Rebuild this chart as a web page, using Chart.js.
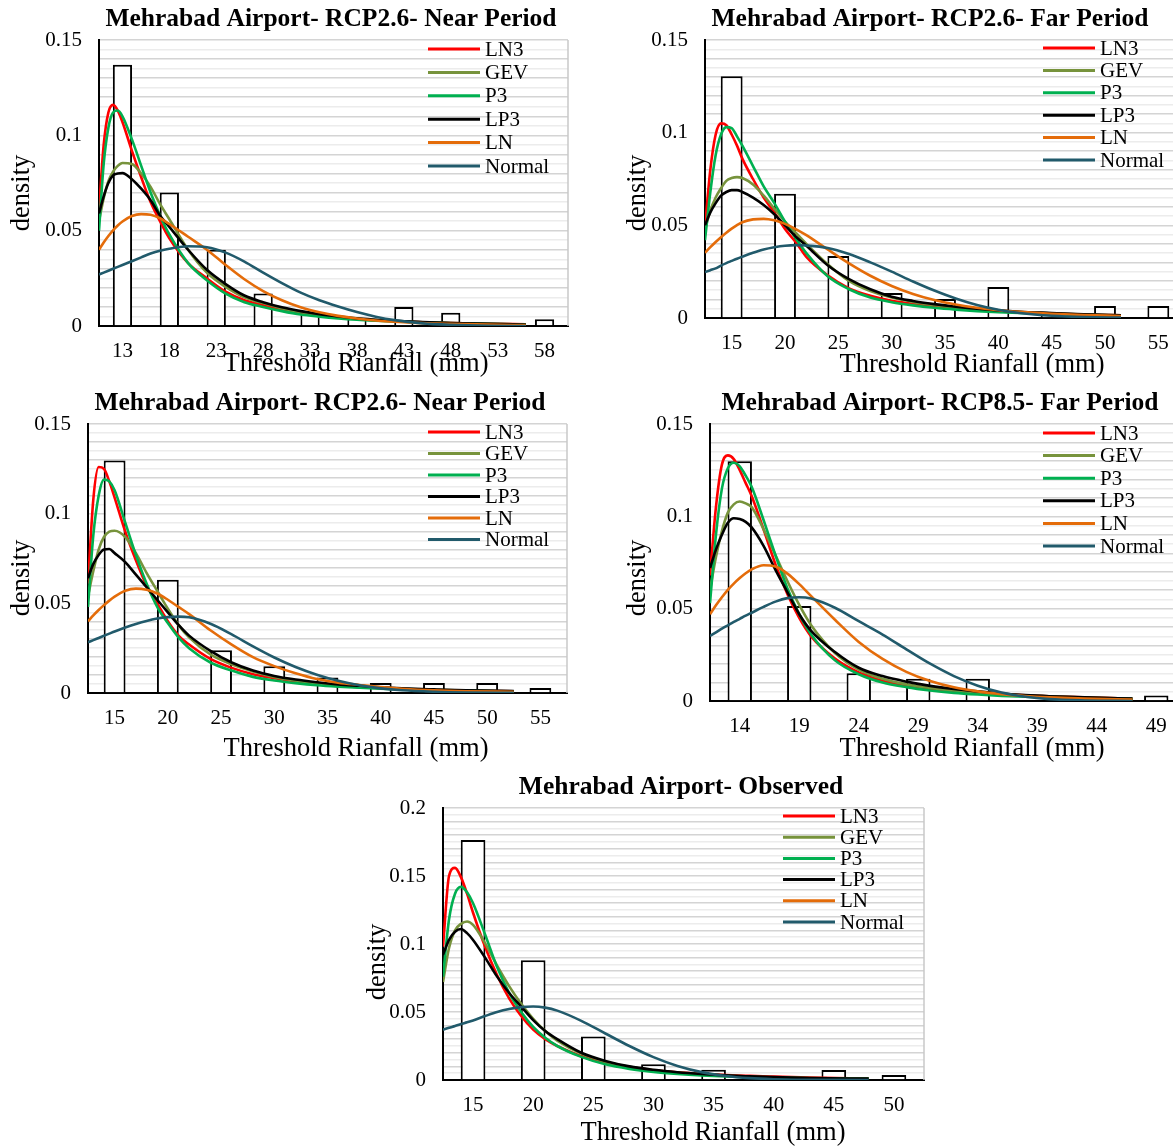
<!DOCTYPE html>
<html>
<head>
<meta charset="utf-8">
<script src="https://cdn.jsdelivr.net/npm/chart.js@4.4.1/dist/chart.umd.min.js"></script>
<style>
html, body { margin: 0; padding: 0; background: #fff; overflow: hidden; width: 1173px; height: 1146px; }
canvas { position: absolute; left: 0; top: 0; }
</style>
</head>
<body>
<canvas id="c1" width="1200" height="1146"></canvas>
<canvas id="c2" width="1200" height="1146"></canvas>
<canvas id="c3" width="1200" height="1146"></canvas>
<canvas id="c4" width="1200" height="1146"></canvas>
<canvas id="c5" width="1200" height="1146"></canvas>
<script>
// legend names and colours
const curveNames = ["LN3", "GEV", "P3", "LP3", "LN", "Normal"];
const curveColors = ["#ff0000", "#77933c", "#00b050", "#000000", "#e46c0a", "#215a6b"];

// ---- panel 1 : RCP2.6 near
const p1Ticks = [13, 18, 23, 28, 33, 38, 43, 48, 53, 58];
const p1Freq = [0.137, 0.070, 0.040, 0.017, 0.007, 0.004, 0.010, 0.007, 0, 0.0035];
const p1X = [10.5, 11, 11.5, 12, 12.5, 13, 14, 15, 16, 17, 18, 20, 22, 24, 26, 28, 30, 32, 34, 36, 38, 40, 42, 45, 48, 52, 56];
const p1LN3 = [.061,.095,.112,.116,.113,.107,.092,.078,.065,.055,.046,.033,.025,.018,.0135,.011,.0085,.0068,.0055,.0045,.0037,.003,.0026,.002,.0016,.0012,.0009];
const p1GEV = [.055,.067,.076,.081,.084,.0855,.085,.080,.073,.064,.056,.040,.028,.0205,.015,.012,.0093,.0073,.0058,.0047,.0038,.0031,.0026,.002,.0016,.0011,.0008];
const p1P3 = [.050,.085,.104,.112,.113,.110,.098,.084,.070,.058,.048,.033,.024,.017,.0125,.010,.0078,.006,.0049,.004,.0033,.0028,.0024,.0018,.0014,.001,.0008];
const p1LP3 = [.059,.068,.075,.079,.080,.0802,.077,.072,.066,.058,.052,.040,.0295,.022,.016,.0125,.0098,.0078,.0062,.005,.004,.0033,.0027,.0021,.0016,.0011,.0008];
const p1LN = [.040,.0438,.0472,.0502,.0527,.0548,.0577,.0587,.0583,.0565,.0535,.0468,.040,.032,.0245,.0183,.0135,.0098,.0072,.0053,.0039,.0029,.0022,.0015,.0011,.0007,.0005];
const p1Normal = [.027,.028,.029,.030,.031,.032,.034,.036,.038,.0395,.0405,.0418,.0413,.0385,.0338,.028,.0225,.0175,.0135,.0102,.0073,.0049,.0031,.0014,.0006,.0001,0];

// ---- panel 2 : RCP2.6 far
const p2Ticks = [15, 20, 25, 30, 35, 40, 45, 50, 55];
const p2Freq = [0.1305, 0.067, 0.0335, 0.0135, 0.0103, 0.0167, 0.003, 0.0065, 0.0065];
const p2X = [12.5, 13, 13.5, 14, 14.5, 15, 15.5, 16, 17, 18, 19, 20, 21, 22, 24, 26, 28, 30, 32, 34, 36, 38, 40, 42, 45, 48, 51.5];
const p2LN3 = [.049,.080,.099,.105,.104,.099,.093,.086,.075,.065,.057,.048,.041,.033,.023,.016,.012,.0093,.0077,.0062,.0052,.0043,.0036,.003,.0024,.0019,.0015];
const p2GEV = [.048,.058,.065,.070,.074,.0755,.076,.0755,.072,.066,.059,.052,.046,.040,.029,.020,.0145,.011,.0087,.007,.0057,.0047,.0039,.0032,.0025,.0019,.0014];
const p2P3 = [.042,.068,.088,.099,.103,.1025,.098,.093,.082,.071,.062,.052,.043,.035,.0225,.0155,.011,.0085,.0068,.0055,.0045,.0037,.0031,.0027,.0021,.0016,.0013];
const p2LP3 = [.050,.057,.062,.066,.068,.069,.069,.068,.065,.061,.056,.050,.044,.039,.0285,.021,.0155,.0115,.0092,.0075,.0061,.005,.0041,.0034,.0027,.002,.0015];
const p2LN = [.0352,.0382,.041,.0436,.046,.0482,.0501,.0517,.0532,.0535,.0527,.0508,.048,.0447,.037,.0295,.0228,.0173,.013,.0097,.0073,.0055,.0042,.0033,.0023,.0016,.0011];
const p2Normal = [.0248,.0258,.0268,.0283,.0296,.0308,.032,.0331,.0352,.037,.0382,.039,.0393,.0391,.0378,.0345,.030,.025,.0197,.0148,.0105,.007,.0044,.0027,.0012,.0005,.0002];

// ---- panel 3 : RCP2.6 near (second)
const p3Ticks = [15, 20, 25, 30, 35, 40, 45, 50, 55];
const p3Freq = [0.1296, 0.0632, 0.0238, 0.0149, 0.0087, 0.0056, 0.0056, 0.0056, 0.0028];
const p3X = [12.5, 13, 13.5, 14, 14.5, 15, 16, 17, 18, 19, 20, 21, 22, 24, 26, 28, 30, 32, 34, 36, 38, 40, 42, 45, 48, 52.5];
const p3LN3 = [.061,.108,.126,.125,.118,.109,.090,.074,.060,.050,.040,.032,.027,.019,.014,.0105,.0083,.0065,.005,.0041,.0033,.0027,.0022,.0017,.0013,.001];
const p3GEV = [.054,.068,.080,.087,.090,.0905,.087,.078,.067,.057,.047,.038,.031,.0215,.016,.012,.009,.007,.0055,.0045,.0036,.003,.0024,.0018,.0014,.001];
const p3P3 = [.048,.088,.110,.119,.118,.113,.095,.077,.061,.048,.039,.031,.025,.017,.0125,.009,.007,.0055,.0043,.0035,.0029,.0024,.002,.0015,.0012,.0009];
const p3LP3 = [.064,.072,.077,.080,.0803,.078,.073,.066,.059,.052,.045,.038,.032,.0235,.017,.0125,.0095,.0075,.006,.0048,.004,.0032,.0026,.002,.0015,.0011];
const p3LN = [.040,.0433,.0463,.049,.0515,.0537,.057,.0582,.0576,.0555,.052,.048,.044,.035,.027,.020,.015,.011,.0078,.0058,.0045,.0033,.0024,.0015,.001,.0007];
const p3Normal = [.0283,.0295,.0307,.0319,.0331,.0343,.0365,.0385,.0402,.0415,.0423,.0426,.0422,.0386,.0327,.026,.0198,.0145,.0102,.0068,.0043,.0026,.0015,.0007,.0003,.0001];

// ---- panel 4 : RCP8.5 far
const p4Ticks = [14, 19, 24, 29, 34, 39, 44, 49];
const p4Freq = [0.1298, 0.0514, 0.015, 0.0121, 0.0121, 0, 0, 0.003];
const p4X = [11.5, 12, 12.5, 13, 13.5, 14, 14.5, 15, 16, 17, 18, 19, 20, 22, 24, 26, 28, 30, 32, 34, 36, 38, 40, 43, 47];
const p4LN3 = [.068,.105,.128,.133,.131,.125,.118,.111,.093,.074,.058,.045,.035,.023,.0155,.011,.0085,.0067,.0055,.0045,.0037,.0031,.0026,.002,.0013];
const p4GEV = [.060,.078,.092,.102,.1065,.108,.107,.105,.093,.079,.065,.052,.041,.026,.017,.012,.009,.0071,.0057,.0046,.0037,.003,.0025,.0019,.0013];
const p4P3 = [.053,.090,.115,.126,.129,.127,.122,.116,.098,.079,.061,.047,.036,.022,.0145,.010,.0075,.0057,.0044,.0035,.0028,.0023,.0019,.0014,.001];
const p4LP3 = [.072,.082,.090,.0965,.099,.0985,.097,.094,.084,.071,.059,.047,.038,.0265,.018,.0135,.0105,.0082,.0065,.0052,.0041,.0032,.0026,.002,.0013];
const p4LN = [.047,.0518,.0562,.0602,.0636,.0666,.0692,.0713,.0735,.0728,.069,.0633,.0568,.044,.032,.0228,.0158,.0108,.0074,.0052,.0037,.0027,.002,.0013,.0008];
const p4Normal = [.0352,.0372,.0392,.041,.0428,.0445,.0462,.0478,.051,.0538,.0557,.0562,.0555,.0505,.0432,.036,.028,.0202,.0135,.0083,.0046,.0023,.001,.0003,0];

// ---- panel 5 : observed (no LN curve drawn)
const p5Ticks = [15, 20, 25, 30, 35, 40, 45, 50];
const p5Freq = [0.1765, 0.088, 0.0319, 0.0115, 0.0076, 0, 0.0074, 0.0037];
const p5X = [12.5, 13, 13.5, 14, 14.5, 15, 16, 17, 18, 19, 20, 21, 22, 24, 26, 28, 30, 32, 34, 36, 38, 40, 43, 47.9];
const p5LN3 = [.098,.150,.156,.149,.137,.123,.098,.077,.060,.047,.037,.030,.025,.0175,.0125,.0095,.0072,.0057,.0045,.0036,.003,.0025,.0018,.0011];
const p5GEV = [.072,.097,.110,.1148,.1165,.114,.1005,.084,.069,.056,.045,.036,.029,.0195,.0135,.0097,.0072,.0055,.0042,.0032,.0025,.002,.0015,.001];
const p5P3 = [.076,.118,.137,.142,.138,.130,.107,.083,.064,.050,.039,.031,.025,.017,.0115,.0082,.006,.0045,.0034,.0026,.002,.0016,.0012,.0008];
const p5LP3 = [.092,.103,.109,.111,.108,.103,.090,.076,.064,.054,.044,.036,.030,.020,.014,.010,.0075,.0057,.0044,.0034,.0027,.0021,.0015,.001];
const p5LN = [];
const p5Normal = [.037,.0384,.0397,.0411,.0424,.0438,.047,.050,.0522,.0536,.054,.0532,.051,.0435,.0342,.025,.0168,.0103,.0058,.003,.0014,.0006,.0001,0];

const serif = '"Liberation Serif", "Times New Roman", serif';
const W = 1200, H = 1146, Y_AXIS_W = 70, X_AXIS_H = 50;

// titles, axis titles, legend and the grey right frame
const decoPlugin = {
  id: "deco",
  afterDraw(chart, args, o) {
    const ctx = chart.ctx, a = chart.chartArea;
    ctx.save();
    ctx.strokeStyle = "#c8c8c8";
    ctx.lineWidth = 1.5;
    ctx.beginPath(); ctx.moveTo(a.right, a.top); ctx.lineTo(a.right, a.bottom); ctx.stroke();

    ctx.fillStyle = "#000";
    ctx.textAlign = "center";
    ctx.textBaseline = "middle";
    ctx.font = "bold 25.5px " + serif;
    ctx.fillText(o.title, o.titlePos[0], o.titlePos[1]);
    ctx.font = "26.5px " + serif;
    ctx.fillText("Threshold Rianfall (mm)", o.xTitlePos[0], o.xTitlePos[1]);
    ctx.save();
    ctx.translate(o.yTitlePos[0], o.yTitlePos[1]);
    ctx.rotate(-Math.PI / 2);
    ctx.fillText("density", 0, 0);
    ctx.restore();

    ctx.font = "21px " + serif;
    ctx.textAlign = "left";
    ctx.lineWidth = 3;
    curveNames.forEach((name, i) => {
      const y = o.legend.y + i * o.legend.step;
      ctx.strokeStyle = curveColors[i];
      ctx.beginPath(); ctx.moveTo(o.legend.x1, y); ctx.lineTo(o.legend.x2, y); ctx.stroke();
      ctx.fillText(name, o.legend.x2 + 5, y + 1);
    });
    ctx.restore();
  }
};

const onStep = (v, s) => Math.abs(v / s - Math.round(v / s)) < 1e-6;

function makeChart(id, p) {
  const pts = (xs, ys) => ys.map((y, i) => ({ x: xs[i], y: y }));
  const bars = {
    type: "bar", label: "histogram",
    data: pts(p.ticks, p.freq),
    backgroundColor: "#ffffff", borderColor: "#000000", borderWidth: 2,
    barPercentage: 0.41, categoryPercentage: 1, order: 10
  };
  const lines = p.curves.map((ys, k) => ({
    type: "line", label: curveNames[k],
    data: pts(p.x, ys),
    borderColor: curveColors[k], borderWidth: 2.6,
    pointRadius: 0, fill: false, cubicInterpolationMode: "monotone",
    order: 6 - k
  }));

  return new Chart(document.getElementById(id), {
    type: "bar",
    data: { datasets: [bars].concat(lines) },
    options: {
      responsive: false,
      animation: false,
      events: [],
      layout: { padding: { left: p.plot[0] - Y_AXIS_W, top: p.plot[1], right: W - p.plot[2], bottom: H - p.plot[3] - X_AXIS_H } },
      plugins: { legend: { display: false }, tooltip: { enabled: false }, deco: p.deco },
      scales: {
        x: {
          type: "linear", min: p.xRange[0], max: p.xRange[1], offset: false,
          grid: { display: false, drawTicks: false },
          border: { color: "#000", width: 2 },
          afterBuildTicks: s => { s.ticks = p.ticks.map(v => ({ value: v })); },
          afterFit: s => { s.height = X_AXIS_H; },
          ticks: { autoSkip: false, maxRotation: 0, padding: 13, color: "#000", font: { family: serif, size: 21 }, callback: v => String(v) }
        },
        y: {
          min: 0, max: p.yMax,
          grid: { drawTicks: false, lineWidth: 1.5, color: c => onStep(c.tick.value, 0.01) ? "#d4d4d4" : "#ececec" },
          border: { color: "#000", width: 2 },
          afterFit: s => { s.width = Y_AXIS_W; },
          ticks: {
            stepSize: 0.005, autoSkip: false, padding: 17, color: "#000",
            font: { family: serif, size: 21 },
            callback: v => onStep(v, 0.05) ? String(Math.round(v * 100) / 100) : ""
          }
        }
      }
    },
    plugins: [decoPlugin]
  });
}

makeChart("c1", {
  ticks: p1Ticks, freq: p1Freq, x: p1X,
  curves: [p1LN3, p1GEV, p1P3, p1LP3, p1LN, p1Normal],
  xRange: [10.5, 60.5], yMax: 0.15, plot: [99, 40, 568, 326],
  deco: { title: "Mehrabad Airport- RCP2.6- Near Period", titlePos: [331, 19], xTitlePos: [356, 364], yTitlePos: [22, 193],
          legend: { x1: 428, x2: 480, y: 49, step: 23.4 } }
});
makeChart("c2", {
  ticks: p2Ticks, freq: p2Freq, x: p2X,
  curves: [p2LN3, p2GEV, p2P3, p2LP3, p2LN, p2Normal],
  xRange: [12.5, 57.5], yMax: 0.15, plot: [705, 40, 1185, 318],
  deco: { title: "Mehrabad Airport- RCP2.6- Far Period", titlePos: [930, 19], xTitlePos: [972, 365], yTitlePos: [638, 193],
          legend: { x1: 1043, x2: 1095, y: 48, step: 22.4 } }
});
makeChart("c3", {
  ticks: p3Ticks, freq: p3Freq, x: p3X,
  curves: [p3LN3, p3GEV, p3P3, p3LP3, p3LN, p3Normal],
  xRange: [12.5, 57.5], yMax: 0.15, plot: [88, 424, 567, 693],
  deco: { title: "Mehrabad Airport- RCP2.6- Near Period", titlePos: [320, 403], xTitlePos: [356, 749], yTitlePos: [22, 578],
          legend: { x1: 428, x2: 480, y: 432, step: 21.5 } }
});
makeChart("c4", {
  ticks: p4Ticks, freq: p4Freq, x: p4X,
  curves: [p4LN3, p4GEV, p4P3, p4LP3, p4LN, p4Normal],
  xRange: [11.5, 51.5], yMax: 0.15, plot: [710, 424, 1186, 701],
  deco: { title: "Mehrabad Airport- RCP8.5- Far Period", titlePos: [940, 403], xTitlePos: [972, 749], yTitlePos: [638, 578],
          legend: { x1: 1043, x2: 1095, y: 433, step: 22.6 } }
});
makeChart("c5", {
  ticks: p5Ticks, freq: p5Freq, x: p5X,
  curves: [p5LN3, p5GEV, p5P3, p5LP3, p5LN, p5Normal],
  xRange: [12.5, 52.5], yMax: 0.2, plot: [443, 808, 924, 1080],
  deco: { title: "Mehrabad Airport- Observed", titlePos: [681, 787], xTitlePos: [713, 1133], yTitlePos: [378, 962],
          legend: { x1: 783, x2: 835, y: 816, step: 21.2 } }
});
</script>
</body>
</html>
